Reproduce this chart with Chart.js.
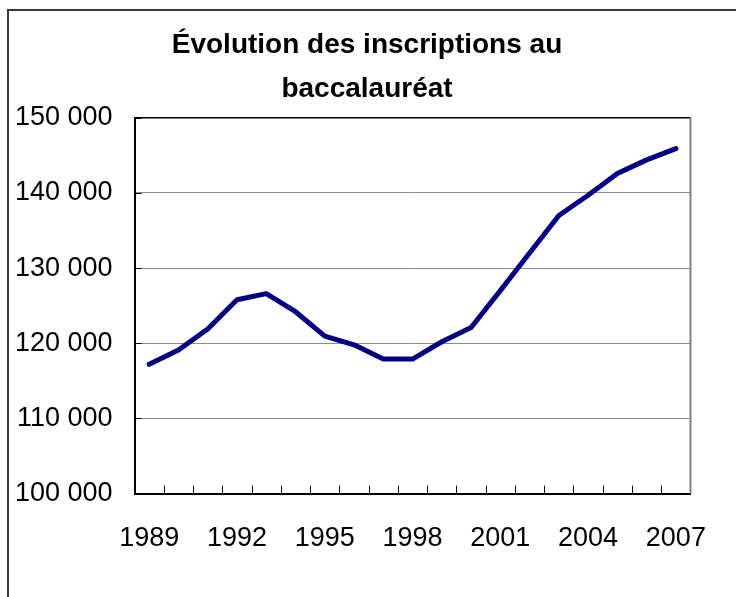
<!DOCTYPE html>
<html lang="fr">
<head>
<meta charset="utf-8">
<title>Évolution des inscriptions au baccalauréat</title>
<script src="https://cdn.jsdelivr.net/npm/chart.js@4/dist/chart.umd.min.js"></script>
<style>
  html, body { margin: 0; padding: 0; background: #fff; }
  #wrap { width: 736px; height: 597px; position: relative; }
</style>
</head>
<body>
<div id="wrap"><canvas id="chart"></canvas></div>
<script>
// données
const years = ['1989', '1990', '1991', '1992', '1993', '1994', '1995', '1996', '1997', '1998',
               '1999', '2000', '2001', '2002', '2003', '2004', '2005', '2006', '2007'];
const inscriptions = [117200, 119100, 121900, 125800, 126600, 124200, 120950, 119800, 117900, 117900,
                      120200, 122100, 127000, 132000, 137000, 139700, 142600, 144400, 145900];
const shownYears = ['1989', '1992', '1995', '1998', '2001', '2004', '2007'];
const yMin = 100000;
const yMax = 150000;
const yStep = 10000;

const FONT = "'Liberation Sans', Arial, sans-serif";

function formatNombre(v) {
    return String(v).replace(/\B(?=(\d{3})+(?!\d))/g, ' ');
}

// cadre extérieur + cadre de la zone de tracé + graduations intérieures
const cadrePlugin = {
    id: 'cadre',
    afterLayout(chart) {
        // titre centré sur toute la largeur du cadre
        if (chart.titleBlock) {
            chart.titleBlock.left = 0;
            chart.titleBlock.right = 734;
        }
    },
    beforeDraw(chart) {
        const ctx = chart.ctx;
        ctx.save();
        ctx.fillStyle = '#fff';
        ctx.fillRect(0, 0, chart.width, chart.height);
        ctx.strokeStyle = '#3a3a3a';
        ctx.lineWidth = 2;
        ctx.beginPath();
        ctx.moveTo(8, chart.height + 2);
        ctx.lineTo(8, 10);
        ctx.lineTo(chart.width + 2, 10);
        ctx.stroke();
        ctx.restore();
    },
    afterDatasetsDraw(chart) {
        const ctx = chart.ctx;
        const area = chart.chartArea;
        const x = chart.scales.x;
        const y = chart.scales.y;
        ctx.save();
        // bord haut noir, bord droit gris
        ctx.lineWidth = 1.5;
        ctx.strokeStyle = '#000';
        ctx.beginPath();
        ctx.moveTo(area.left, area.top);
        ctx.lineTo(area.right, area.top);
        ctx.stroke();
        ctx.strokeStyle = '#808080';
        ctx.lineWidth = 2;
        ctx.beginPath();
        ctx.moveTo(area.right, area.top);
        ctx.lineTo(area.right, area.bottom);
        ctx.stroke();

        // graduations de l'axe X (entre les catégories)
        ctx.strokeStyle = '#000';
        ctx.lineWidth = 1;
        const n = years.length;
        for (let i = 1; i < n; i++) {
            const px = Math.round((x.getPixelForValue(i - 1) + x.getPixelForValue(i)) / 2) + 0.5;
            ctx.beginPath();
            ctx.moveTo(px, area.bottom);
            ctx.lineTo(px, area.bottom - 8);
            ctx.stroke();
        }
        // graduations de l'axe Y
        for (let v = yMin; v <= yMax; v += yStep) {
            const py = Math.round(y.getPixelForValue(v)) + 0.5;
            ctx.beginPath();
            ctx.moveTo(area.left, py);
            ctx.lineTo(area.left + 7, py);
            ctx.stroke();
        }
        ctx.restore();
    }
};

const ctx = document.getElementById('chart').getContext('2d');
new Chart(ctx, {
    type: 'line',
    data: {
        labels: years,
        datasets: [{
            label: 'Inscriptions',
            data: inscriptions,
            borderColor: '#000080',
            backgroundColor: '#000080',
            borderWidth: 5,
            borderCapStyle: 'round',
            borderJoinStyle: 'round',
            pointRadius: 0,
            tension: 0
        }]
    },
    options: {
        responsive: true,
        maintainAspectRatio: false,
        animation: false,
        layout: { padding: { left: -7, right: 42, top: 0, bottom: 13 } },
        plugins: {
            legend: { display: false },
            tooltip: { enabled: false },
            title: {
                display: true,
                text: ['Évolution des inscriptions au', 'baccalauréat'],
                color: '#000',
                font: { family: FONT, size: 28, weight: 'bold', lineHeight: 1.55 },
                padding: { top: 24, bottom: 7 }
            }
        },
        scales: {
            x: {
                type: 'category',
                offset: true,
                grid: { display: false, drawTicks: false },
                border: { display: true, color: '#000', width: 2 },
                ticks: {
                    autoSkip: false,
                    maxRotation: 0,
                    padding: 29,
                    color: '#000',
                    font: { family: FONT, size: 27 },
                    callback: function (value, index) {
                        const lab = years[index];
                        return shownYears.includes(lab) ? lab : '';
                    }
                }
            },
            y: {
                min: yMin,
                max: yMax,
                grid: { color: '#8c8c8c', lineWidth: 1, drawTicks: false },
                border: { display: true, color: '#000', width: 2 },
                ticks: {
                    stepSize: yStep,
                    padding: 22,
                    color: '#000',
                    font: { family: FONT, size: 27 },
                    callback: v => formatNombre(v)
                }
            }
        }
    },
    plugins: [cadrePlugin]
});
</script>
</body>
</html>
